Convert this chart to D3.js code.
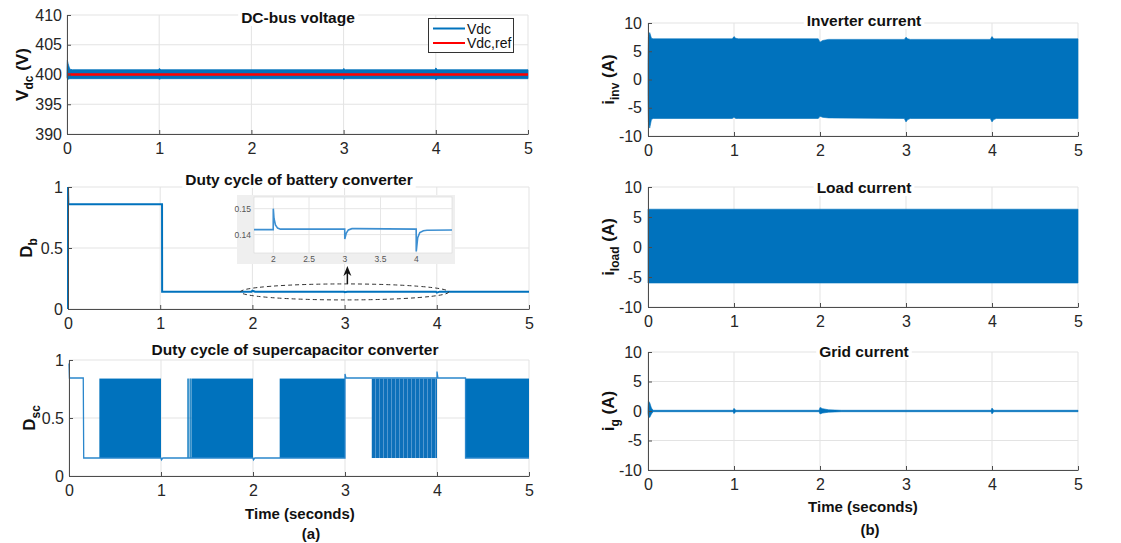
<!DOCTYPE html>
<html>
<head>
<meta charset="utf-8">
<script src="https://cdn.jsdelivr.net/npm/d3@7"></script>
<style>
  body { margin: 0; background: #fff; }
  svg { display: block; font-family: Arial, "Liberation Sans", Helvetica, sans-serif; }
</style>
</head>
<body>
<script>
// ---- data ----
const timeTicks = [0, 1, 2, 3, 4, 5];

// DC-bus voltage: envelope of the ripple band + reference
const vdcT     = [0, 0.004, 0.012, 0.03, 0.06, 0.99, 1.0, 1.02, 2.99, 3.0, 3.02, 3.99, 4.0, 4.02, 5];
const vdcUpper = [400.5, 402.4, 401.8, 400.9, 400.8, 400.8, 401.0, 400.8, 400.8, 401.0, 400.8, 400.8, 401.1, 400.8, 400.8];
const vdcLower = [399.5, 399.3, 399.2, 399.3, 399.3, 399.3, 399.2, 399.3, 399.3, 399.2, 399.3, 399.3, 399.1, 399.3, 399.3];
const refT = [0, 5];
const refV = [400, 400];
const vdcTicks = [390, 395, 400, 405, 410];

// battery converter duty cycle
const dbT = [0, 0, 0.004, 1.02, 1.021, 1.99, 2.0, 2.03, 2.99, 3.0, 3.03, 3.99, 4.0, 4.03, 5];
const dbV = [0, 1.0, 0.858, 0.858, 0.142, 0.142, 0.150, 0.142, 0.142, 0.138, 0.142, 0.142, 0.134, 0.142, 0.142];
const dutyTicks = [0, 0.5, 1];

// zoomed inset of D_b
const insetT = [1.73, 1.999, 2.0, 2.01, 2.03, 2.06, 2.1, 2.999, 3.0, 3.02, 3.05, 3.1, 3.15, 3.999, 4.0, 4.02, 4.05, 4.1, 4.15, 4.5];
const insetV = [0.1419, 0.1419, 0.1500, 0.1462, 0.1437, 0.1425, 0.1421, 0.1421, 0.1383, 0.1405, 0.1418, 0.1423, 0.1423, 0.1421, 0.1335, 0.1388, 0.1408, 0.1415, 0.1417, 0.1418];
const insetXTicks = [2, 2.5, 3, 3.5, 4];
const insetYTicks = [0.14, 0.15];

// supercapacitor converter duty cycle: steady trace, switching bands, isolated pulses
const dscT = [0, 0.005, 0.155, 0.16, 1.0, 1.005, 1.02, 2.0, 2.005, 2.02, 3.0, 3.0, 3.01, 4.0, 4.0, 4.01, 4.31, 4.31, 5];
const dscV = [0.97, 0.845, 0.845, 0.155, 0.155, 0.14, 0.155, 0.155, 0.14, 0.155, 0.155, 0.88, 0.845, 0.845, 0.9, 0.845, 0.845, 0.155, 0.155];
const dscBandStart = [0.33, 1.33, 2.29, 3.29, 4.31];
const dscBandEnd   = [1.0, 2.0, 3.0, 4.0, 5.0];
const dscBandSparse = [false, false, false, true, false];
const dscPulses = [1.29, 1.30, 1.315, 1.322];
const dscHigh = 0.84, dscLow = 0.155;

// inverter current envelope
const invT     = [0, 0.005, 0.02, 0.04, 0.06, 0.98, 1.0, 1.02, 1.05, 1.98, 2.0, 2.03, 2.1, 2.98, 3.0, 3.02, 3.05, 3.98, 4.0, 4.02, 4.05, 5];
const invUpper = [3, 7.5, 8.3, 7.3, 7.2, 7.2, 7.6, 7.3, 7.2, 7.2, 6.6, 6.9, 7.1, 7.1, 7.5, 7.2, 7.1, 7.1, 7.6, 7.2, 7.2, 7.2];
const invLower = [-3, -7.5, -8.6, -7.1, -6.9, -6.9, -6.7, -6.9, -6.9, -6.9, -6.5, -6.7, -6.8, -6.9, -7.5, -7.1, -6.9, -6.9, -7.5, -7.1, -6.9, -6.9];

// load current envelope
const loadT     = [0, 5];
const loadUpper = [6.3, 6.3];
const loadLower = [-6.0, -6.0];

// grid current envelope
const gridT     = [0, 0.005, 0.02, 0.04, 0.06, 0.99, 1.0, 1.02, 1.99, 2.0, 2.03, 2.1, 2.25, 3.0, 3.99, 4.0, 4.02, 5];
const gridUpper = [0.3, 1.7, 1.4, 0.5, 0.12, 0.12, 0.45, 0.12, 0.12, 0.6, 0.4, 0.2, 0.12, 0.12, 0.12, 0.5, 0.12, 0.12];
const gridLower = [-0.3, -0.9, -1.1, -0.5, -0.12, -0.12, -0.45, -0.12, -0.12, -0.5, -0.35, -0.2, -0.12, -0.12, -0.12, -0.5, -0.12, -0.12];
const currentTicks = [-10, -5, 0, 5, 10];

// ---- styling ----
const blue = '#0072BD';
const red = '#ff0000';
const gridColor = '#e3e3e3';
const axisColor = '#4d4d4d';
const textColor = '#262626';

const svg = d3.select('body').append('svg')
  .attr('width', 1121)
  .attr('height', 543);

// stripe pattern for the sparse switching band
const pat = svg.append('defs').append('pattern')
  .attr('id', 'sparse')
  .attr('patternUnits', 'userSpaceOnUse')
  .attr('width', 4).attr('height', 10);
pat.append('rect').attr('width', 4).attr('height', 10).attr('fill', '#0d70ba');
pat.append('rect').attr('x', 3).attr('width', 1).attr('height', 10).attr('fill', '#5197d0');

function panel(o) {
  const x = d3.scaleLinear().domain([0, 5]).range(o.xRange);
  const y = d3.scaleLinear().domain(o.yDomain).range(o.yRange);
  const g = svg.append('g');

  // grid lines
  g.append('g').selectAll('line').data(timeTicks).join('line')
    .attr('x1', (d) => x(d)).attr('x2', (d) => x(d))
    .attr('y1', o.yRange[0]).attr('y2', o.yRange[1])
    .attr('stroke', gridColor);
  g.append('g').selectAll('line').data(o.yTicks).join('line')
    .attr('x1', o.xRange[0]).attr('x2', o.xRange[1])
    .attr('y1', (d) => y(d)).attr('y2', (d) => y(d))
    .attr('stroke', gridColor);

  const plot = g.append('g');
  const top = g.append('g');

  const finish = () => {
    const xa = top.append('g')
      .attr('transform', `translate(0,${o.yRange[0]})`)
      .call(d3.axisBottom(x).tickValues(timeTicks).tickSizeInner(-4).tickSizeOuter(0)
        .tickPadding(9).tickFormat((d) => String(d)));
    const ya = top.append('g')
      .attr('transform', `translate(${o.xRange[0]},0)`)
      .call(d3.axisLeft(y).tickValues(o.yTicks).tickSizeInner(-4).tickSizeOuter(0)
        .tickPadding(o.yPad || 5).tickFormat((d) => String(d)));
    [xa, ya].forEach((a) => {
      a.select('.domain').attr('stroke', axisColor);
      a.selectAll('.tick line').attr('stroke', axisColor);
      a.selectAll('.tick text')
        .attr('fill', textColor)
        .style('font-size', '16px')
        .style('font-family', 'Arial, "Liberation Sans", sans-serif');
    });

    // title with white backing
    const tg = top.append('g');
    const t = tg.append('text')
      .attr('x', o.titleX).attr('y', o.titleY)
      .attr('text-anchor', 'middle')
      .attr('font-weight', 'bold').attr('font-size', 15.5)
      .attr('fill', '#111')
      .text(o.title);
    const bb = t.node().getBBox();
    tg.insert('rect', 'text')
      .attr('x', bb.x - 3).attr('y', bb.y).attr('width', bb.width + 6).attr('height', bb.height)
      .attr('fill', '#fff');

    // y label with subscript
    const lx = o.labelX, ly = (o.yRange[0] + o.yRange[1]) / 2;
    const lab = top.append('text')
      .attr('transform', `translate(${lx},${ly}) rotate(-90)`)
      .attr('text-anchor', 'middle')
      .attr('font-weight', 'bold').attr('font-size', 17)
      .attr('fill', '#111');
    lab.append('tspan').text(o.label[0]);
    lab.append('tspan').attr('font-size', 12).attr('dy', 5).text(o.label[1]);
    lab.append('tspan').attr('dy', -5).text(o.label[2]);
  };
  return { x, y, plot, finish };
}

const area = (px, py) => d3.area()
  .x((d) => px(d[0])).y0((d) => py(d[2])).y1((d) => py(d[1]));
const line = (px, py) => d3.line().x((d) => px(d[0])).y((d) => py(d[1]));

// ---- (a) DC-bus voltage ----
const p1 = panel({ xRange: [67, 528], yRange: [134, 15], yDomain: [390, 410], yTicks: vdcTicks,
  title: 'DC-bus voltage', titleX: 298, titleY: 23, label: ['V', 'dc', ' (V)'], labelX: 28 });
p1.plot.append('path')
  .datum(vdcT.map((t, i) => [t, vdcUpper[i], vdcLower[i]]))
  .attr('fill', blue).attr('stroke', blue).attr('stroke-width', 0.8)
  .attr('d', area(p1.x, p1.y));
p1.plot.append('path')
  .datum(refT.map((t, i) => [t, refV[i]]))
  .attr('fill', 'none').attr('stroke', red).attr('stroke-width', 2.5)
  .attr('d', line(p1.x, p1.y));
p1.finish();

// legend
const lg = svg.append('g');
lg.append('rect').attr('x', 428.5).attr('y', 18.5).attr('width', 85).attr('height', 34)
  .attr('fill', '#fff').attr('stroke', '#333');
[['Vdc', blue], ['Vdc,ref', red]].forEach(([name, c], i) => {
  const yy = 28.5 + i * 14.5;
  lg.append('line').attr('x1', 433).attr('x2', 465).attr('y1', yy).attr('y2', yy)
    .attr('stroke', c).attr('stroke-width', 2);
  lg.append('text').attr('x', 467).attr('y', yy + 5).attr('font-size', 14)
    .attr('fill', '#111').text(name);
});

// ---- (a) battery duty cycle ----
const p2 = panel({ xRange: [68, 529], yRange: [309, 187], yDomain: [0, 1], yTicks: dutyTicks,
  title: 'Duty cycle of battery converter', titleX: 299, titleY: 185, label: ['D', 'b', ''], labelX: 32 });
p2.plot.append('path')
  .datum(dbT.map((t, i) => [t, dbV[i]]))
  .attr('fill', 'none').attr('stroke', blue).attr('stroke-width', 2)
  .attr('d', line(p2.x, p2.y));
p2.finish();

// dashed ellipse + arrow pointing at the inset
const ann = svg.append('g');
ann.append('ellipse')
  .attr('cx', (p2.x(1.87) + p2.x(4.13)) / 2).attr('cy', p2.y(0.14))
  .attr('rx', (p2.x(4.13) - p2.x(1.87)) / 2).attr('ry', 8)
  .attr('fill', 'none').attr('stroke', '#333').attr('stroke-width', 1)
  .attr('stroke-dasharray', '4,3');
const ax = p2.x(3.03);
ann.append('line').attr('x1', ax).attr('x2', ax).attr('y1', p2.y(0.14) - 8).attr('y2', 272)
  .attr('stroke', '#111').attr('stroke-width', 1.5);
ann.append('path')
  .attr('d', `M${ax},266 L${ax - 4},276 L${ax},273 L${ax + 4},276 Z`)
  .attr('fill', '#111');

// inset
const ins = svg.append('g');
ins.append('rect').attr('x', 237).attr('y', 195).attr('width', 218).attr('height', 69).attr('fill', '#efefef');
ins.append('rect').attr('x', 254).attr('y', 197).attr('width', 198).attr('height', 56)
  .attr('fill', '#fff').attr('stroke', '#d6d6d6').attr('stroke-width', 0.6);
const xi = d3.scaleLinear().domain([1.73, 4.5]).range([254, 452]);
const yi = d3.scaleLinear().domain([0.1329, 0.1545]).range([253, 197]);
ins.append('g').selectAll('line').data(insetXTicks).join('line')
  .attr('x1', (d) => xi(d)).attr('x2', (d) => xi(d)).attr('y1', 197).attr('y2', 253)
  .attr('stroke', '#e6e6e6');
ins.append('g').selectAll('line').data(insetYTicks).join('line')
  .attr('x1', 254).attr('x2', 452).attr('y1', (d) => yi(d)).attr('y2', (d) => yi(d))
  .attr('stroke', '#e6e6e6');
ins.append('path')
  .datum(insetT.map((t, i) => [t, insetV[i]]))
  .attr('fill', 'none').attr('stroke', '#3d8fd1').attr('stroke-width', 1.6)
  .attr('d', line(xi, yi));
ins.append('g').selectAll('text').data(insetXTicks).join('text')
  .attr('x', (d) => xi(d)).attr('y', 262).attr('text-anchor', 'middle')
  .attr('font-size', 8.5).attr('fill', '#555').text((d) => String(d));
ins.append('g').selectAll('text').data(insetYTicks).join('text')
  .attr('x', 251).attr('y', (d) => yi(d) + 3).attr('text-anchor', 'end')
  .attr('font-size', 8.5).attr('fill', '#555').text((d) => String(d));

// ---- (a) supercapacitor duty cycle ----
const p3 = panel({ xRange: [69, 529], yRange: [476, 360], yDomain: [0, 1], yTicks: dutyTicks,
  title: 'Duty cycle of supercapacitor converter', titleX: 295, titleY: 355, label: ['D', 'sc', ''], labelX: 35 });
p3.plot.append('g').selectAll('rect').data(dscBandStart).join('rect')
  .attr('x', (d) => p3.x(d))
  .attr('width', (d, i) => p3.x(dscBandEnd[i]) - p3.x(d))
  .attr('y', p3.y(dscHigh))
  .attr('height', p3.y(dscLow) - p3.y(dscHigh))
  .attr('fill', (d, i) => dscBandSparse[i] ? 'url(#sparse)' : blue);
p3.plot.append('g').selectAll('line').data(dscPulses).join('line')
  .attr('x1', (d) => p3.x(d)).attr('x2', (d) => p3.x(d))
  .attr('y1', p3.y(dscLow)).attr('y2', p3.y(dscHigh))
  .attr('stroke', blue).attr('stroke-width', 0.8);
p3.plot.append('path')
  .datum(dscT.map((t, i) => [t, dscV[i]]))
  .attr('fill', 'none').attr('stroke', '#2a86cc').attr('stroke-width', 1.3)
  .attr('d', line(p3.x, p3.y));
p3.finish();

svg.append('text').attr('x', 300).attr('y', 519).attr('text-anchor', 'middle')
  .attr('font-weight', 'bold').attr('font-size', 15).attr('fill', '#111').text('Time (seconds)');
svg.append('text').attr('x', 311).attr('y', 539).attr('text-anchor', 'middle')
  .attr('font-weight', 'bold').attr('font-size', 15).attr('fill', '#111').text('(a)');

// ---- (b) currents ----
const currentPanels = [
  { yRange: [136, 23], title: 'Inverter current', titleY: 26, label: ['i', 'inv', ' (A)'],
    t: invT, up: invUpper, lo: invLower },
  { yRange: [307, 187], title: 'Load current', titleY: 193, label: ['i', 'load', ' (A)'],
    t: loadT, up: loadUpper, lo: loadLower },
  { yRange: [470, 352], title: 'Grid current', titleY: 357, label: ['i', 'g', ' (A)'],
    t: gridT, up: gridUpper, lo: gridLower },
];
currentPanels.forEach((c) => {
  const p = panel({ xRange: [648, 1078], yRange: c.yRange, yDomain: [-10, 10], yTicks: currentTicks,
    title: c.title, titleX: 864, titleY: c.titleY, label: c.label, labelX: 614, yPad: 6 });
  p.plot.append('path')
    .datum(c.t.map((t, i) => [t, c.up[i], c.lo[i]]))
    .attr('fill', blue).attr('stroke', blue).attr('stroke-width', 0.6)
    .attr('d', area(p.x, p.y));
  p.finish();
});

svg.append('text').attr('x', 863).attr('y', 512).attr('text-anchor', 'middle')
  .attr('font-weight', 'bold').attr('font-size', 15).attr('fill', '#111').text('Time (seconds)');
svg.append('text').attr('x', 870).attr('y', 535).attr('text-anchor', 'middle')
  .attr('font-weight', 'bold').attr('font-size', 15).attr('fill', '#111').text('(b)');
</script>
</body>
</html>
